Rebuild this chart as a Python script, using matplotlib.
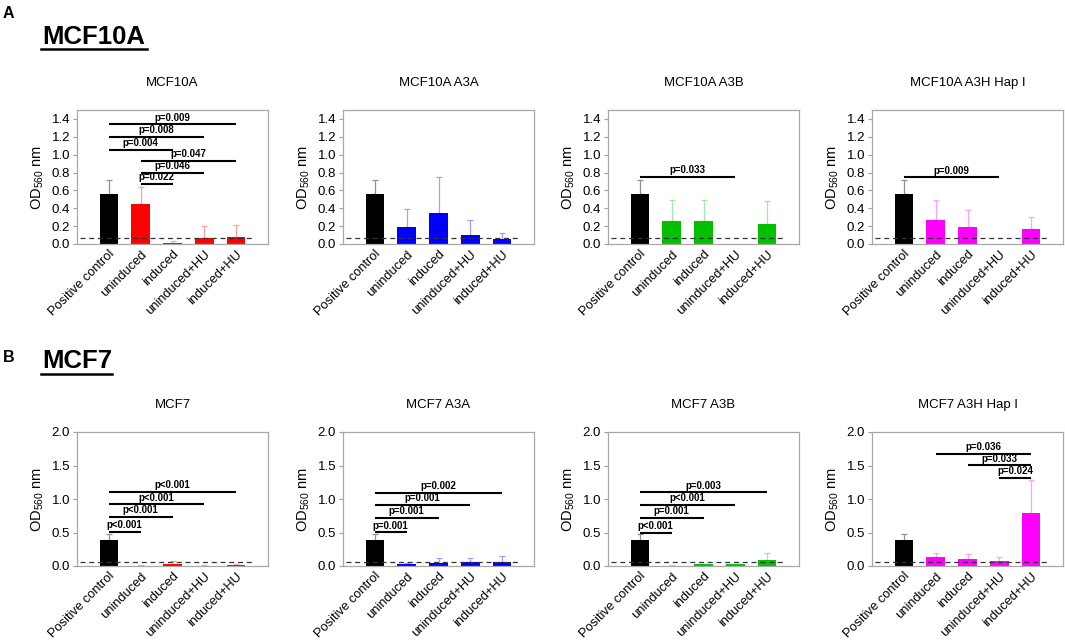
import matplotlib
matplotlib.use('Agg')
import matplotlib.pyplot as plt
import numpy as np

plt.rcParams['font.family'] = ['Liberation Sans', 'DejaVu Sans']
plt.rcParams['mathtext.fontset'] = 'custom'
plt.rcParams['mathtext.rm'] = 'Liberation Sans'

categories = ['Positive control', 'uninduced', 'induced', 'uninduced+HU', 'induced+HU']

# Row A: MCF10A
titles_a = ['MCF10A', 'MCF10A A3A', 'MCF10A A3B', 'MCF10A A3H Hap I']
mcf10a_mean = [0.556, 0.448, 0.015, 0.071, 0.082]
mcf10a_err = [0.16, 0.19, 0.019, 0.129, 0.134]
mcf10a_a3a_mean = [0.556, 0.187, 0.343, 0.097, 0.052]
mcf10a_a3a_err = [0.16, 0.201, 0.403, 0.168, 0.067]
mcf10a_a3b_mean = [0.556, 0.261, 0.257, 0.0, 0.22]
mcf10a_a3b_err = [0.16, 0.232, 0.232, 0.0, 0.261]
mcf10a_a3h_mean = [0.556, 0.265, 0.194, 0.0, 0.164]
mcf10a_a3h_err = [0.16, 0.224, 0.183, 0.0, 0.142]
threshold_a = 0.065

sig_mcf10a = [(0, 4, 1.34, 'p=0.009'), (0, 3, 1.198, 'p=0.008'), (0, 2, 1.052, 'p=0.004'),
              (1, 4, 0.929, 'p=0.047'), (1, 3, 0.80, 'p=0.046'), (1, 2, 0.675, 'p=0.022')]
sig_mcf10a_a3a = []
sig_mcf10a_a3b = [(0, 3, 0.754, 'p=0.033')]
sig_mcf10a_a3h = [(0, 3, 0.746, 'p=0.009')]

# Row B: MCF7
titles_b = ['MCF7', 'MCF7 A3A', 'MCF7 A3B', 'MCF7 A3H Hap I']
mcf7_mean = [0.393, 0.005, 0.03, 0.005, 0.012]
mcf7_err = [0.08, 0.01, 0.045, 0.01, 0.013]
mcf7_a3a_mean = [0.393, 0.03, 0.045, 0.065, 0.055]
mcf7_a3a_err = [0.08, 0.01, 0.069, 0.049, 0.089]
mcf7_a3b_mean = [0.393, 0.003, 0.025, 0.025, 0.085]
mcf7_a3b_err = [0.08, 0.005, 0.005, 0.005, 0.115]
mcf7_a3h_mean = [0.393, 0.129, 0.11, 0.07, 0.786]
mcf7_a3h_err = [0.08, 0.071, 0.069, 0.059, 0.493]
threshold_b = 0.055

sig_mcf7 = [(0, 1, 0.512, 'p<0.001'), (0, 2, 0.731, 'p<0.001'), (0, 3, 0.92, 'p<0.001'), (0, 4, 1.109, 'p<0.001')]
sig_mcf7_a3a = [(0, 1, 0.502, 'p=0.001'), (0, 2, 0.716, 'p=0.001'), (0, 3, 0.91, 'p=0.001'), (0, 4, 1.095, 'p=0.002')]
sig_mcf7_a3b = [(0, 1, 0.50, 'p<0.001'), (0, 2, 0.72, 'p=0.001'), (0, 3, 0.91, 'p<0.001'), (0, 4, 1.10, 'p=0.003')]
sig_mcf7_a3h = [(1, 4, 1.677, 'p=0.036'), (2, 4, 1.502, 'p=0.033'), (3, 4, 1.313, 'p=0.024')]

colors = ['#ff0000', '#0000ff', '#00c000', '#ff00ff']
err_colors = ['#ffa0a0', '#a0a0ff', '#a0e8a0', '#ffa0ff']

fig = plt.figure(figsize=(10.65, 6.4), dpi=100)

lefts = [77, 343, 608, 872]
W, H = 1065.0, 640.0
aw = 191 / W

def draw_panel(ax, title, mean, err, color, ecolor, sig, ymax, yticks, thr):
    x = np.arange(len(categories))
    bcolors = ['black'] + [color] * 4
    ecols = ['#909090'] + [ecolor] * 4
    ax.bar(x, mean, width=0.58, color=bcolors, zorder=2)
    for i in range(len(x)):
        if err[i] > 0:
            ax.errorbar(x[i], mean[i], yerr=[[0], [err[i]]], fmt='none', ecolor=ecols[i],
                        elinewidth=0.9, capsize=2.2, capthick=0.9, zorder=1.5)
    ax.hlines(thr, -0.9, 4.55, colors='#333333', linestyles=(0, (4, 3)), linewidth=0.9, zorder=3)
    for (i, j, y, lab) in sig:
        ax.plot([i, j], [y, y], color='black', linewidth=1.5, zorder=4, solid_capstyle='butt')
        ax.text((i + j) / 2, y + ymax * 0.012, lab, ha='center', va='bottom', fontsize=7,
                fontweight='bold', zorder=4)
    ax.set_xlim(-1, 5)
    ax.set_ylim(0, ymax)
    ax.set_yticks(yticks)
    ax.set_yticklabels(['%.1f' % t for t in yticks], fontsize=9.5)
    ax.set_xticks(x)
    ax.set_xticklabels(categories, rotation=45, ha='right', rotation_mode='anchor', fontsize=9.3)
    ax.tick_params(axis='x', length=0, pad=3)
    ax.tick_params(axis='y', length=3, width=0.8, color='#a0a0a0', pad=2)
    for s in ax.spines.values():
        s.set_color('#a8a8a8')
        s.set_linewidth(0.9)
    ax.set_ylabel('OD$_{560}$ nm', fontsize=10.5, labelpad=4)
    ax.set_title(title, fontsize=9.5, pad=17)

row_a = [(mcf10a_mean, mcf10a_err, sig_mcf10a), (mcf10a_a3a_mean, mcf10a_a3a_err, sig_mcf10a_a3a),
         (mcf10a_a3b_mean, mcf10a_a3b_err, sig_mcf10a_a3b), (mcf10a_a3h_mean, mcf10a_a3h_err, sig_mcf10a_a3h)]
row_b = [(mcf7_mean, mcf7_err, sig_mcf7), (mcf7_a3a_mean, mcf7_a3a_err, sig_mcf7_a3a),
         (mcf7_a3b_mean, mcf7_a3b_err, sig_mcf7_a3b), (mcf7_a3h_mean, mcf7_a3h_err, sig_mcf7_a3h)]

for k in range(4):
    ax = fig.add_axes([lefts[k] / W, (H - 244) / H, aw, 134 / H])
    m, e, s = row_a[k]
    draw_panel(ax, titles_a[k], m, e, colors[k], err_colors[k], s, 1.5,
               [0.0, 0.2, 0.4, 0.6, 0.8, 1.0, 1.2, 1.4], threshold_a)
    ax = fig.add_axes([lefts[k] / W, (H - 566) / H, aw, 134 / H])
    m, e, s = row_b[k]
    draw_panel(ax, titles_b[k], m, e, colors[k], err_colors[k], s, 2.0,
               [0.0, 0.5, 1.0, 1.5, 2.0], threshold_b)

# Section labels
fig.text(3 / W, 1 - 13 / H, 'A', fontsize=11.5, fontweight='bold', va='center', ha='left')
fig.text(42 / W, 1 - 37 / H, 'MCF10A', fontsize=18.5, fontweight='bold', va='center', ha='left')
fig.text(3 / W, 1 - 358 / H, 'B', fontsize=11.5, fontweight='bold', va='center', ha='left')
fig.text(42 / W, 1 - 361 / H, 'MCF7', fontsize=18.5, fontweight='bold', va='center', ha='left')
fig.add_artist(plt.Line2D([41 / W, 147 / W], [1 - 49 / H, 1 - 49 / H], color='black', linewidth=1.8))
fig.add_artist(plt.Line2D([41 / W, 112 / W], [1 - 374 / H, 1 - 374 / H], color='black', linewidth=1.8))

fig.savefig('out.png', dpi=100)
